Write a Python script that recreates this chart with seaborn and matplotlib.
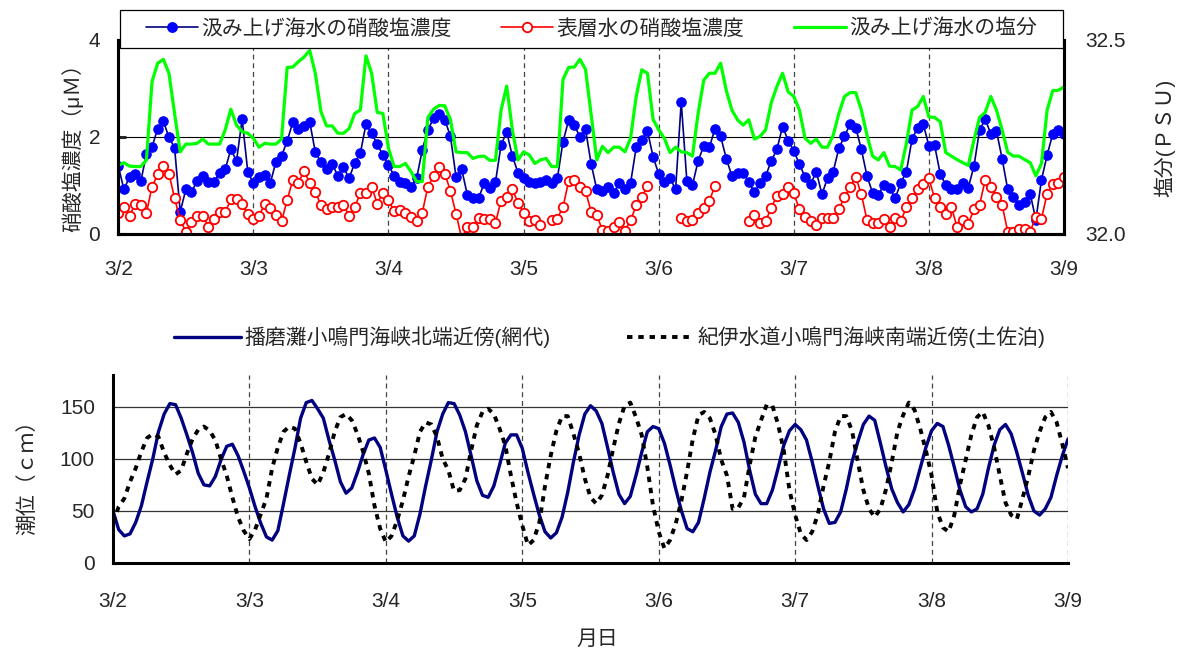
import numpy as np
import pandas as pd
import seaborn as sns
import matplotlib.pyplot as plt
from matplotlib.lines import Line2D
from matplotlib.patches import Rectangle

# 3/2 0時から1時間毎 (169点)
day_labels = ["3/2", "3/3", "3/4", "3/5", "3/6", "3/7", "3/8", "3/9"]

# 汲み上げ海水の硝酸塩濃度 (μM)
nitrate_up = [
    1.40, 0.91, 1.17, 1.22, 1.08, 1.64, 1.79, 2.17, 2.32, 1.99,
    1.77, 0.45, 0.91, 0.85, 1.09, 1.19, 1.07, 1.07, 1.26, 1.33,
    1.74, 1.50, 2.36, 1.28, 1.04, 1.17, 1.21, 1.04, 1.48, 1.60,
    1.91, 2.30, 2.16, 2.23, 2.31, 1.68, 1.48, 1.33, 1.44, 1.19,
    1.37, 1.14, 1.46, 1.66, 2.26, 2.07, 1.85, 1.62, 1.42, 1.19,
    1.06, 1.04, 0.97, 1.14, 1.73, 2.14, 2.38, 2.47, 2.35, 2.01,
    1.17, 1.33, 0.80, 0.73, 0.73, 1.04, 0.95, 1.06, 1.83, 2.10,
    1.60, 1.26, 1.14, 1.07, 1.04, 1.07, 1.11, 1.04, 1.14, 1.90,
    2.34, 2.24, 2.00, 2.15, 1.44, 0.91, 0.88, 0.97, 0.84, 1.04,
    0.91, 1.04, 1.78, 1.93, 2.12, 1.59, 1.23, 1.07, 1.15, 0.91,
    2.72, 1.09, 1.00, 1.50, 1.81, 1.78, 2.17, 2.01, 1.55, 1.19,
    1.26, 1.26, 1.07, 0.85, 1.04, 1.19, 1.50, 1.74, 2.21, 1.92,
    1.71, 1.43, 1.17, 1.02, 1.28, 0.81, 1.15, 1.28, 1.76, 2.01,
    2.26, 2.19, 1.74, 1.19, 0.84, 0.80, 1.00, 0.95, 0.73, 1.04,
    1.28, 1.95, 2.19, 2.26, 1.81, 1.83, 1.24, 1.00, 0.91, 0.91,
    1.04, 0.95, 1.39, 2.14, 2.36, 2.06, 2.12, 1.55, 0.91, 0.76,
    0.59, 0.66, 0.82, 0.28, 1.11, 1.62, 2.06, 2.14, 2.06,
]

# 表層水の硝酸塩濃度 (μM)  欠測は nan
nan = np.nan
nitrate_surface = [
    0.43, 0.55, 0.37, 0.61, 0.59, 0.43, 0.97, 1.22, 1.39, 1.24,
    0.73, 0.28, 0.04, 0.23, 0.37, 0.37, 0.14, 0.29, 0.45, 0.44,
    0.71, 0.71, 0.60, 0.40, 0.31, 0.37, 0.60, 0.52, 0.38, 0.25,
    0.69, 1.11, 1.05, 1.29, 1.05, 0.86, 0.59, 0.51, 0.54, 0.55,
    0.59, 0.37, 0.55, 0.83, 0.83, 0.97, 0.62, 0.84, 0.69, 0.46,
    0.49, 0.42, 0.35, 0.25, 0.43, 0.97, 1.18, 1.38, 1.24, 0.88,
    0.41, -0.10, 0.13, 0.14, 0.33, 0.31, 0.29, 0.22, 0.68, 0.75,
    0.91, 0.64, 0.43, 0.25, 0.27, 0.18, nan, 0.28, 0.31, 0.55,
    1.08, 1.11, 0.97, 0.88, 0.45, 0.38, 0.07, 0.06, 0.13, 0.23,
    0.06, 0.27, 0.58, 0.75, 0.99, nan, nan, nan, nan, nan,
    0.32, 0.26, 0.27, 0.43, 0.52, 0.67, 0.99, nan, nan, nan,
    nan, nan, 0.26, 0.39, 0.22, 0.26, 0.53, 0.78, 0.81, 0.96,
    0.83, 0.50, 0.35, 0.25, 0.17, 0.33, 0.32, 0.32, 0.50, 0.75,
    0.96, 1.17, 0.81, 0.28, 0.22, 0.22, 0.31, 0.14, 0.33, 0.25,
    0.55, 0.73, 0.91, 1.02, 1.14, 0.73, 0.55, 0.40, 0.55, 0.13,
    0.27, 0.20, 0.50, 0.59, 1.11, 0.97, 0.76, 0.59, 0.04, 0.04,
    0.09, 0.09, 0.04, 0.35, 0.31, 0.82, 1.02, 1.04, 1.17,
]

# 汲み上げ海水の塩分 (PSU)
salinity_up = [
    32.176, 32.183, 32.174, 32.173, 32.173, 32.190, 32.393, 32.440, 32.450, 32.414,
    32.310, 32.211, 32.231, 32.231, 32.233, 32.244, 32.231, 32.231, 32.231, 32.268,
    32.321, 32.280, 32.263, 32.259, 32.246, 32.223, 32.233, 32.231, 32.231, 32.244,
    32.429, 32.430, 32.444, 32.456, 32.473, 32.414, 32.315, 32.278, 32.278, 32.259,
    32.259, 32.271, 32.310, 32.319, 32.459, 32.414, 32.313, 32.310, 32.220, 32.173,
    32.173, 32.181, 32.160, 32.134, 32.134, 32.300, 32.321, 32.331, 32.330, 32.294,
    32.211, 32.209, 32.209, 32.194, 32.199, 32.200, 32.189, 32.189, 32.319, 32.381,
    32.268, 32.190, 32.211, 32.203, 32.181, 32.190, 32.194, 32.173, 32.173, 32.398,
    32.429, 32.430, 32.450, 32.424, 32.306, 32.190, 32.225, 32.209, 32.223, 32.223,
    32.211, 32.246, 32.354, 32.423, 32.414, 32.295, 32.268, 32.246, 32.209, 32.223,
    32.211, 32.209, 32.200, 32.310, 32.396, 32.414, 32.414, 32.440, 32.370, 32.319,
    32.294, 32.280, 32.294, 32.244, 32.251, 32.268, 32.338, 32.380, 32.414, 32.366,
    32.354, 32.319, 32.246, 32.233, 32.244, 32.223, 32.223, 32.254, 32.310, 32.354,
    32.364, 32.364, 32.319, 32.254, 32.200, 32.190, 32.209, 32.174, 32.173, 32.164,
    32.233, 32.319, 32.328, 32.354, 32.301, 32.300, 32.289, 32.209, 32.200, 32.191,
    32.183, 32.176, 32.241, 32.300, 32.313, 32.354, 32.319, 32.268, 32.210, 32.200,
    32.200, 32.191, 32.183, 32.149, 32.181, 32.319, 32.369, 32.370, 32.379,
]

# 潮位 (cm): 播磨灘小鳴門海峡北端近傍(網代)
tide_ajiro = [
    50, 32, 26, 28, 39, 55, 78, 100, 126, 143,
    153, 152, 139, 123, 106, 86, 75, 74, 83, 99,
    112, 114, 103, 88, 72, 54, 38, 25, 22, 31,
    57, 84, 110, 139, 154, 156, 148, 139, 118, 99,
    78, 67, 72, 87, 104, 118, 120, 111, 89, 66,
    44, 26, 21, 26, 47, 74, 99, 126, 143, 154,
    153, 142, 126, 103, 79, 65, 63, 74, 94, 115,
    123, 123, 110, 87, 66, 46, 30, 24, 29, 44,
    68, 97, 123, 143, 151, 146, 134, 111, 87, 66,
    57, 64, 84, 106, 126, 131, 129, 115, 94, 71,
    50, 33, 30, 39, 62, 87, 108, 131, 143, 144,
    135, 116, 89, 66, 57, 57, 70, 91, 113, 127,
    133, 128, 118, 97, 74, 52, 38, 39, 49, 71,
    97, 116, 133, 141, 137, 115, 92, 71, 58, 49,
    56, 71, 91, 111, 127, 134, 131, 113, 92, 70,
    54, 49, 52, 66, 91, 113, 128, 133, 124, 106,
    86, 65, 50, 46, 52, 63, 84, 103, 119,
]

# 潮位 (cm): 紀伊水道小鳴門海峡南端近傍(土佐泊)
tide_tosadomari = [
    39, 54, 62, 78, 91, 107, 120, 124, 121, 106,
    94, 85, 89, 105, 119, 128, 131, 127, 118, 100,
    84, 63, 44, 31, 23, 32, 47, 62, 91, 111,
    126, 131, 129, 115, 97, 81, 75, 87, 105, 126,
    140, 143, 137, 124, 107, 86, 55, 33, 20, 26,
    41, 60, 83, 103, 126, 135, 133, 121, 100, 89,
    69, 70, 81, 108, 132, 145, 148, 143, 129, 113,
    84, 58, 36, 17, 22, 39, 74, 103, 127, 141,
    141, 124, 105, 81, 63, 57, 65, 84, 110, 134,
    151, 154, 140, 123, 92, 55, 30, 14, 22, 38,
    60, 88, 119, 142, 145, 139, 123, 99, 84, 52,
    53, 63, 94, 121, 137, 152, 151, 133, 108, 70,
    46, 28, 22, 30, 47, 74, 97, 126, 141, 141,
    127, 98, 70, 52, 44, 52, 71, 97, 126, 142,
    154, 147, 129, 108, 84, 49, 34, 30, 46, 75,
    99, 123, 140, 145, 132, 111, 84, 58, 46, 42,
    62, 83, 108, 126, 140, 145, 135, 114, 91,
]

label_up = "汲み上げ海水の硝酸塩濃度"
label_surf = "表層水の硝酸塩濃度"
label_sal = "汲み上げ海水の塩分"
label_ajiro = "播磨灘小鳴門海峡北端近傍(網代)"
label_tosa = "紀伊水道小鳴門海峡南端近傍(土佐泊)"

day = np.arange(len(nitrate_up)) / 24.0
top = pd.DataFrame({"day": day, "up": nitrate_up, "surf": nitrate_surface,
                    "sal": salinity_up})
# 欠測で線を切るためのセグメント番号
top["seg"] = top["surf"].isna().cumsum()
tide = pd.DataFrame({"day": day, "ajiro": tide_ajiro, "tosa": tide_tosadomari})

sns.set_style("white")
plt.rcParams["font.family"] = ["Liberation Sans", "Noto Sans CJK JP", "DejaVu Sans"]

NAVY = "#000080"
BLUE = "#0000ff"
RED = "#ff0000"
GREEN = "#00ff00"
GRID_DASH = (0, (4, 3))
TOSA_DASH = (0, (1.4, 1.5))

fig = plt.figure(figsize=(11.77, 6.51), dpi=100)
ax1 = fig.add_axes([0.1005, 0.6413, 0.8035, 0.2973])
ax1b = ax1.twinx()
ax2 = fig.add_axes([0.0960, 0.1352, 0.8114, 0.2880])

# ---- 上段: 硝酸塩濃度と塩分
sns.lineplot(data=top, x="day", y="up", ax=ax1, color=NAVY, lw=1.2,
             marker="o", ms=6.8, mfc=BLUE, mec=BLUE, mew=0.8, legend=False)
sns.lineplot(data=top.dropna(), x="day", y="surf", units="seg", estimator=None,
             ax=ax1, color=RED, lw=1.2, marker="o", ms=6.8, mfc="white",
             mec=RED, mew=1.3, legend=False)
sns.lineplot(data=top, x="day", y="sal", ax=ax1b, color=GREEN, lw=2.3, legend=False)

ax1.set_xlim(0, 7)
ax1.set_ylim(0, 4)
ax1.set_yticks([0, 2, 4])
ax1.set_yticklabels(["0", "2", "4"])
ax1.set_xticks(range(len(day_labels)))
ax1.set_xticklabels(day_labels)
ax1b.set_ylim(32.0, 32.5)
ax1b.set_yticks([32.0, 32.5])
ax1b.set_yticklabels(["32.0", "32.5"])
for a in (ax1, ax1b):
    a.set_xlabel("")
    a.set_ylabel("")
    a.spines["top"].set_visible(False)
    for s in ("left", "bottom", "right"):
        a.spines[s].set_linewidth(2.2)
        a.spines[s].set_color("black")
ax1.yaxis.grid(True, color="black", lw=0.8)
ax1.xaxis.grid(True, color="#444444", lw=0.9, linestyle=GRID_DASH)
ax1.tick_params(axis="both", direction="in", length=6, width=2.2, labelsize=15)
ax1.tick_params(axis="x", pad=19)
ax1.tick_params(axis="y", pad=13)
ax1b.tick_params(axis="y", direction="in", length=6, width=2.2, labelsize=15, pad=15)

# ---- 下段: 潮位
sns.lineplot(data=tide, x="day", y="ajiro", ax=ax2, color=NAVY, lw=2.4, legend=False)
sns.lineplot(data=tide, x="day", y="tosa", ax=ax2, color="black", lw=2.8,
             linestyle=TOSA_DASH, legend=False)
ax2.set_xlim(0, 7)
ax2.set_ylim(0, 180)
ax2.set_yticks([0, 50, 100, 150])
ax2.set_xticks(range(len(day_labels)))
ax2.set_xticklabels(day_labels)
ax2.set_xlabel("")
ax2.set_ylabel("")
ax2.spines["top"].set_visible(False)
ax2.spines["right"].set_visible(False)
for s in ("left", "bottom"):
    ax2.spines[s].set_linewidth(2.2)
    ax2.spines[s].set_color("black")
ax2.yaxis.grid(True, color="#333333", lw=0.9)
ax2.xaxis.grid(True, color="#444444", lw=0.9, linestyle=GRID_DASH)
ax2.tick_params(axis="both", direction="in", length=6, width=2.2, labelsize=15)
ax2.tick_params(axis="x", pad=21)
ax2.tick_params(axis="y", pad=13)

# ---- 軸ラベル
fig.text(72.5 / 1177, 1 - 143 / 651, "硝酸塩濃度（μＭ）", rotation=90,
         ha="center", va="center", fontsize=15)
fig.text(1165 / 1177, 1 - 138 / 651, "塩分(ＰＳＵ)", rotation=90,
         ha="center", va="center", fontsize=15)
fig.text(27 / 1177, 1 - 472 / 651, "潮位（ｃｍ）", rotation=90,
         ha="center", va="center", fontsize=15)
fig.text(597 / 1177, 1 - 639 / 651, "月日", ha="center", va="center", fontsize=15)

# ---- 凡例
fig.add_artist(Rectangle((120 / 1177, 1 - 47.5 / 651), (1063 - 120) / 1177, 37.5 / 651,
                         transform=fig.transFigure, facecolor="white",
                         edgecolor="black", lw=0.9, zorder=3))
h_up = Line2D([], [], color=NAVY, lw=1.2, marker="o", ms=6.8, mfc=BLUE, mec=BLUE)
h_surf = Line2D([], [], color=RED, lw=1.2, marker="o", ms=6.8, mfc="white", mec=RED, mew=1.3)
h_sal = Line2D([], [], color=GREEN, lw=2.3)
leg1 = fig.legend([h_up, h_surf, h_sal], [label_up, label_surf, label_sal],
                  loc="center", bbox_to_anchor=(0.5025, 0.9562), ncol=3,
                  frameon=False, fontsize=15, handlelength=2.5, handletextpad=0.15,
                  columnspacing=2.4, numpoints=1, borderaxespad=0)
leg1.set_zorder(4)

h_ajiro = Line2D([], [], color=NAVY, lw=2.4)
h_tosa = Line2D([], [], color="black", lw=2.8, linestyle=TOSA_DASH)
fig.legend([h_ajiro, h_tosa], [label_ajiro, label_tosa], loc="center",
           bbox_to_anchor=(0.518, 0.4823), ncol=2, frameon=False, fontsize=15,
           handlelength=3.2, handletextpad=0.15, columnspacing=3.7, borderaxespad=0)

fig.savefig("out.png", dpi=100)
